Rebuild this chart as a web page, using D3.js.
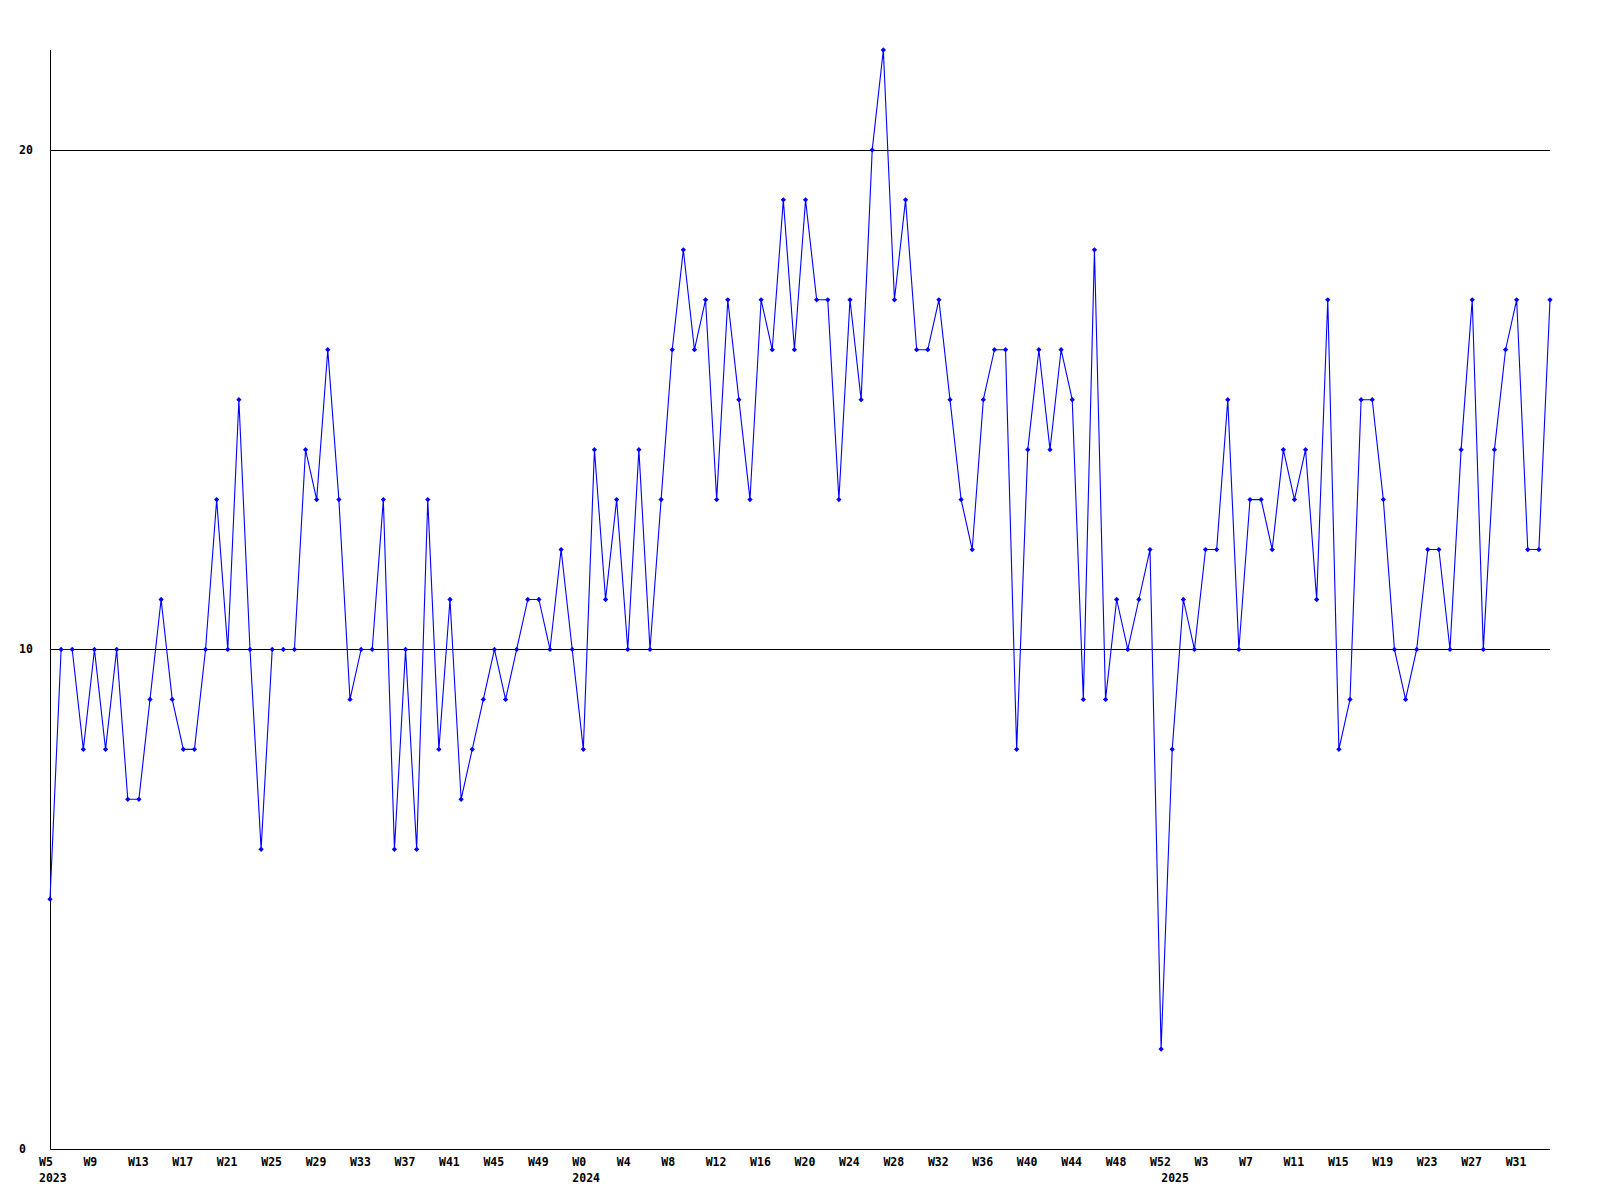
<!DOCTYPE html>
<html>
<head>
<meta charset="utf-8">
<script src="https://cdn.jsdelivr.net/npm/d3@7/dist/d3.min.js"></script>
<style>
  html, body { margin: 0; padding: 0; background: #fff; }
  svg { display: block; }
  text { font-family: "DejaVu Sans Mono", "Liberation Mono", monospace; font-weight: bold; font-size: 11.5px; fill: #000; }
</style>
</head>
<body>
<svg id="chart" width="1600" height="1200"></svg>
<script>
// ---- data ----
const years = [2023, 2024, 2025];
const firstWeek = [5, 0, 0];
const lastWeek = [52, 52, 34];
const values = [
  5, 10, 10, 8, 10, 8, 10, 7, 7, 9,
  11, 9, 8, 8, 10, 13, 10, 15, 10, 6,
  10, 10, 10, 14, 13, 16, 13, 9, 10, 10,
  13, 6, 10, 6, 13, 8, 11, 7, 8, 9,
  10, 9, 10, 11, 11, 10, 12, 10, 8, 14,
  11, 13, 10, 14, 10, 13, 16, 18, 16, 17,
  13, 17, 15, 13, 17, 16, 19, 16, 19, 17,
  17, 13, 17, 15, 20, 22, 17, 19, 16, 16,
  17, 15, 13, 12, 15, 16, 16, 8, 14, 16,
  14, 16, 15, 9, 18, 9, 11, 10, 11, 12,
  2, 8, 11, 10, 12, 12, 15, 10, 13, 13,
  12, 14, 13, 14, 11, 17, 8, 9, 15, 15,
  13, 10, 9, 10, 12, 12, 10, 14, 17, 10,
  14, 16, 17, 12, 12, 17
];
const yTicks = [0, 10, 20];
const gridValues = [10, 20];
const yMax = 22;
const tickEvery = 4;

(function () {
  // categories (week labels with year)
  const categories = [];
  years.forEach((yr, k) => {
    d3.range(firstWeek[k], lastWeek[k] + 1).forEach((w, j) => {
      categories.push({ year: yr, week: "W" + w, firstOfYear: j === 0 });
    });
  });
  const data = values.map((v, i) => ({ i, v, cat: categories[i] }));

  // ---- layout ----
  const pLeft = 50, pRight = 1550, pTop = 50, pBottom = 1149;
  const svg = d3.select("#chart");

  const x = d3.scalePoint().domain(d3.range(values.length)).range([pLeft, pRight]);
  const y = d3.scaleLinear().domain([0, yMax]).range([pBottom, pTop]);

  // gridlines
  svg.append("g").selectAll("line").data(gridValues).join("line")
    .attr("x1", pLeft).attr("x2", pRight)
    .attr("y1", d => Math.round(y(d)) + 0.5).attr("y2", d => Math.round(y(d)) + 0.5)
    .attr("stroke", "#000").attr("stroke-width", 1).attr("shape-rendering", "crispEdges");

  // axis lines
  svg.append("line")
    .attr("x1", pLeft + 0.5).attr("x2", pLeft + 0.5)
    .attr("y1", pTop).attr("y2", pBottom + 0.5)
    .attr("stroke", "#000").attr("shape-rendering", "crispEdges");
  svg.append("line")
    .attr("x1", pLeft).attr("x2", pRight)
    .attr("y1", pBottom + 0.5).attr("y2", pBottom + 0.5)
    .attr("stroke", "#000").attr("shape-rendering", "crispEdges");

  // y labels
  svg.append("g").selectAll("text").data(yTicks).join("text")
    .attr("x", 19).attr("y", d => y(d))
    .attr("dy", "0.35em")
    .text(d => d);

  // x week labels
  const tickData = data.filter(d => d.i % tickEvery === 0);
  svg.append("g").selectAll("text").data(tickData).join("text")
    .attr("x", d => x(d.i) - 11).attr("y", 1166)
    .text(d => d.cat.week);

  // year labels
  svg.append("g").selectAll("text").data(data.filter(d => d.cat.firstOfYear)).join("text")
    .attr("x", d => x(d.i) - 11).attr("y", 1182)
    .text(d => d.cat.year);

  // line
  const line = d3.line().x(d => x(d.i)).y(d => y(d.v));
  svg.append("path").datum(data)
    .attr("d", line)
    .attr("fill", "none").attr("stroke", "#0000ff").attr("stroke-width", 1.1);

  // markers
  const sym = d3.symbol().type(d3.symbolSquare).size(14);
  svg.append("g").selectAll("path").data(data).join("path")
    .attr("d", sym)
    .attr("transform", d => `translate(${x(d.i)},${y(d.v)}) rotate(45)`)
    .attr("fill", "#0000ff");
})();
</script>
</body>
</html>
